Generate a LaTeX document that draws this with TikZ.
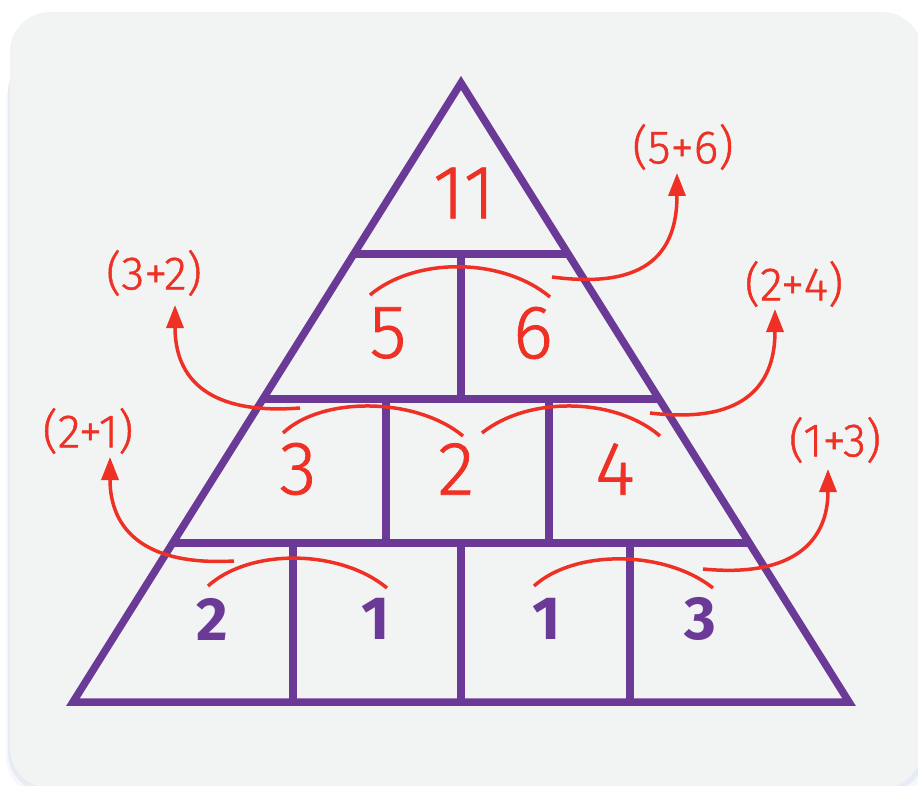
\documentclass[tikz,border=0pt]{standalone}
\usepackage{fontspec}
\setmainfont{Fira Sans}
\newfontfamily\firalight[FakeBold=1]{Fira Sans Light}
\usetikzlibrary{arrows.meta}
\definecolor{bgc}{HTML}{F2F4F4}
\definecolor{pur}{HTML}{6B3A96}
\definecolor{rd}{HTML}{EE3124}
\definecolor{shd}{HTML}{9FB2D6}
\begin{document}
\begin{tikzpicture}[x=1pt,y=-1pt,
  edge/.style={draw=pur,line width=7.5pt,line join=miter},
  arcline/.style={draw=rd,line width=3.5pt},
  arr/.style={draw=rd,line width=3.5pt,-{Triangle[width=17pt,length=23pt]}},
  rnum/.style={text=rd,font=\firalight\fontsize{76}{80}\selectfont,inner sep=0pt},
  bnum/.style={text=pur,font=\bfseries\fontsize{61}{64}\selectfont,inner sep=0pt},
  lbl/.style={text=rd,font=\firalight\fontsize{47}{50}\selectfont,inner sep=0pt}]
\useasboundingbox (0,0) rectangle (918,786);
% background card with soft shadow
\fill[shd,opacity=0.10,rounded corners=42pt] (6,60) rectangle (928,798);
\fill[shd,opacity=0.18,rounded corners=41pt] (8,50) rectangle (925,793);
\fill[bgc,rounded corners=40pt] (10,12) rectangle (922,788);
% pyramid
\draw[edge] (73,702) -- (461,83) -- (849,702) -- cycle;
\draw[edge] (353.8,254) -- (568.2,254);
\draw[edge] (263,399) -- (659,399);
\draw[edge] (172.6,543) -- (749.4,543);
\draw[edge] (461,254) -- (461,399);
\draw[edge] (386,399) -- (386,543);
\draw[edge] (549,399) -- (549,543);
\draw[edge] (293,543) -- (293,702);
\draw[edge] (461,543) -- (461,702);
\draw[edge] (630,543) -- (630,702);
% numbers
\node[rnum] (n11) at (464,193) {11};
\node[rnum] (n5) at (388,333) {5};
\node[rnum] (n6) at (533,333) {6};
\node[rnum] (n3) at (298,469) {3};
\node[rnum] (n2) at (456,469) {2};
\node[rnum] (n4) at (615,469) {4};
\node[bnum] (b2) at (212,619) {2};
\node[bnum] (b1a) at (376,619) {1};
\node[bnum] (b1b) at (547,619) {1};
\node[bnum] (b3) at (700,619) {3};
% labels
\node[lbl] (l56) at (683,147) {(5+6)};
\node[lbl] (l32) at (154,273) {(3+2)};
\node[lbl] (l24) at (794,284) {(2+4)};
\node[lbl] (l13) at (835,440) {(1+3)};
\node[lbl] (l21) at (88,431) {(2+1)};
% arcs
\coordinate (a56s) at (370,295);  \coordinate (a56e) at (550,297);
\coordinate (a32s) at (283,433);  \coordinate (a32e) at (463,436);
\coordinate (a24s) at (482,433);  \coordinate (a24e) at (660,436);
\coordinate (a21s) at (208,586);  \coordinate (a21e) at (387,588);
\coordinate (a13s) at (534,586);  \coordinate (a13e) at (713,588);
\draw[arcline] (a56s) .. controls (415,257) and (502,257) .. (a56e);
\draw[arcline] (a32s) .. controls (322,396) and (416,397) .. (a32e);
\draw[arcline] (a24s) .. controls (528,396) and (615,397) .. (a24e);
\draw[arcline] (a21s) .. controls (250,548) and (340,549) .. (a21e);
\draw[arcline] (a13s) .. controls (575,549) and (665,550) .. (a13e);
% arrows to labels
\coordinate (t56s) at (552,277); \coordinate (t56) at (677,173);
\coordinate (t32s) at (300,408); \coordinate (t32) at (175,305);
\coordinate (t24s) at (650,413); \coordinate (t24) at (775,309);
\coordinate (t21s) at (234,561); \coordinate (t21) at (110,457);
\coordinate (t13s) at (703,569); \coordinate (t13) at (828,469);
\draw[arr] (t56s) .. controls (650,290) and (677,250) .. (t56);
\draw[arr] (t32s) .. controls (210,415) and (175,380) .. (t32);
\draw[arr] (t24s) .. controls (750,425) and (775,380) .. (t24);
\draw[arr] (t21s) .. controls (145,566) and (110,530) .. (t21);
\draw[arr] (t13s) .. controls (795,578) and (828,540) .. (t13);
\end{tikzpicture}
\end{document}
